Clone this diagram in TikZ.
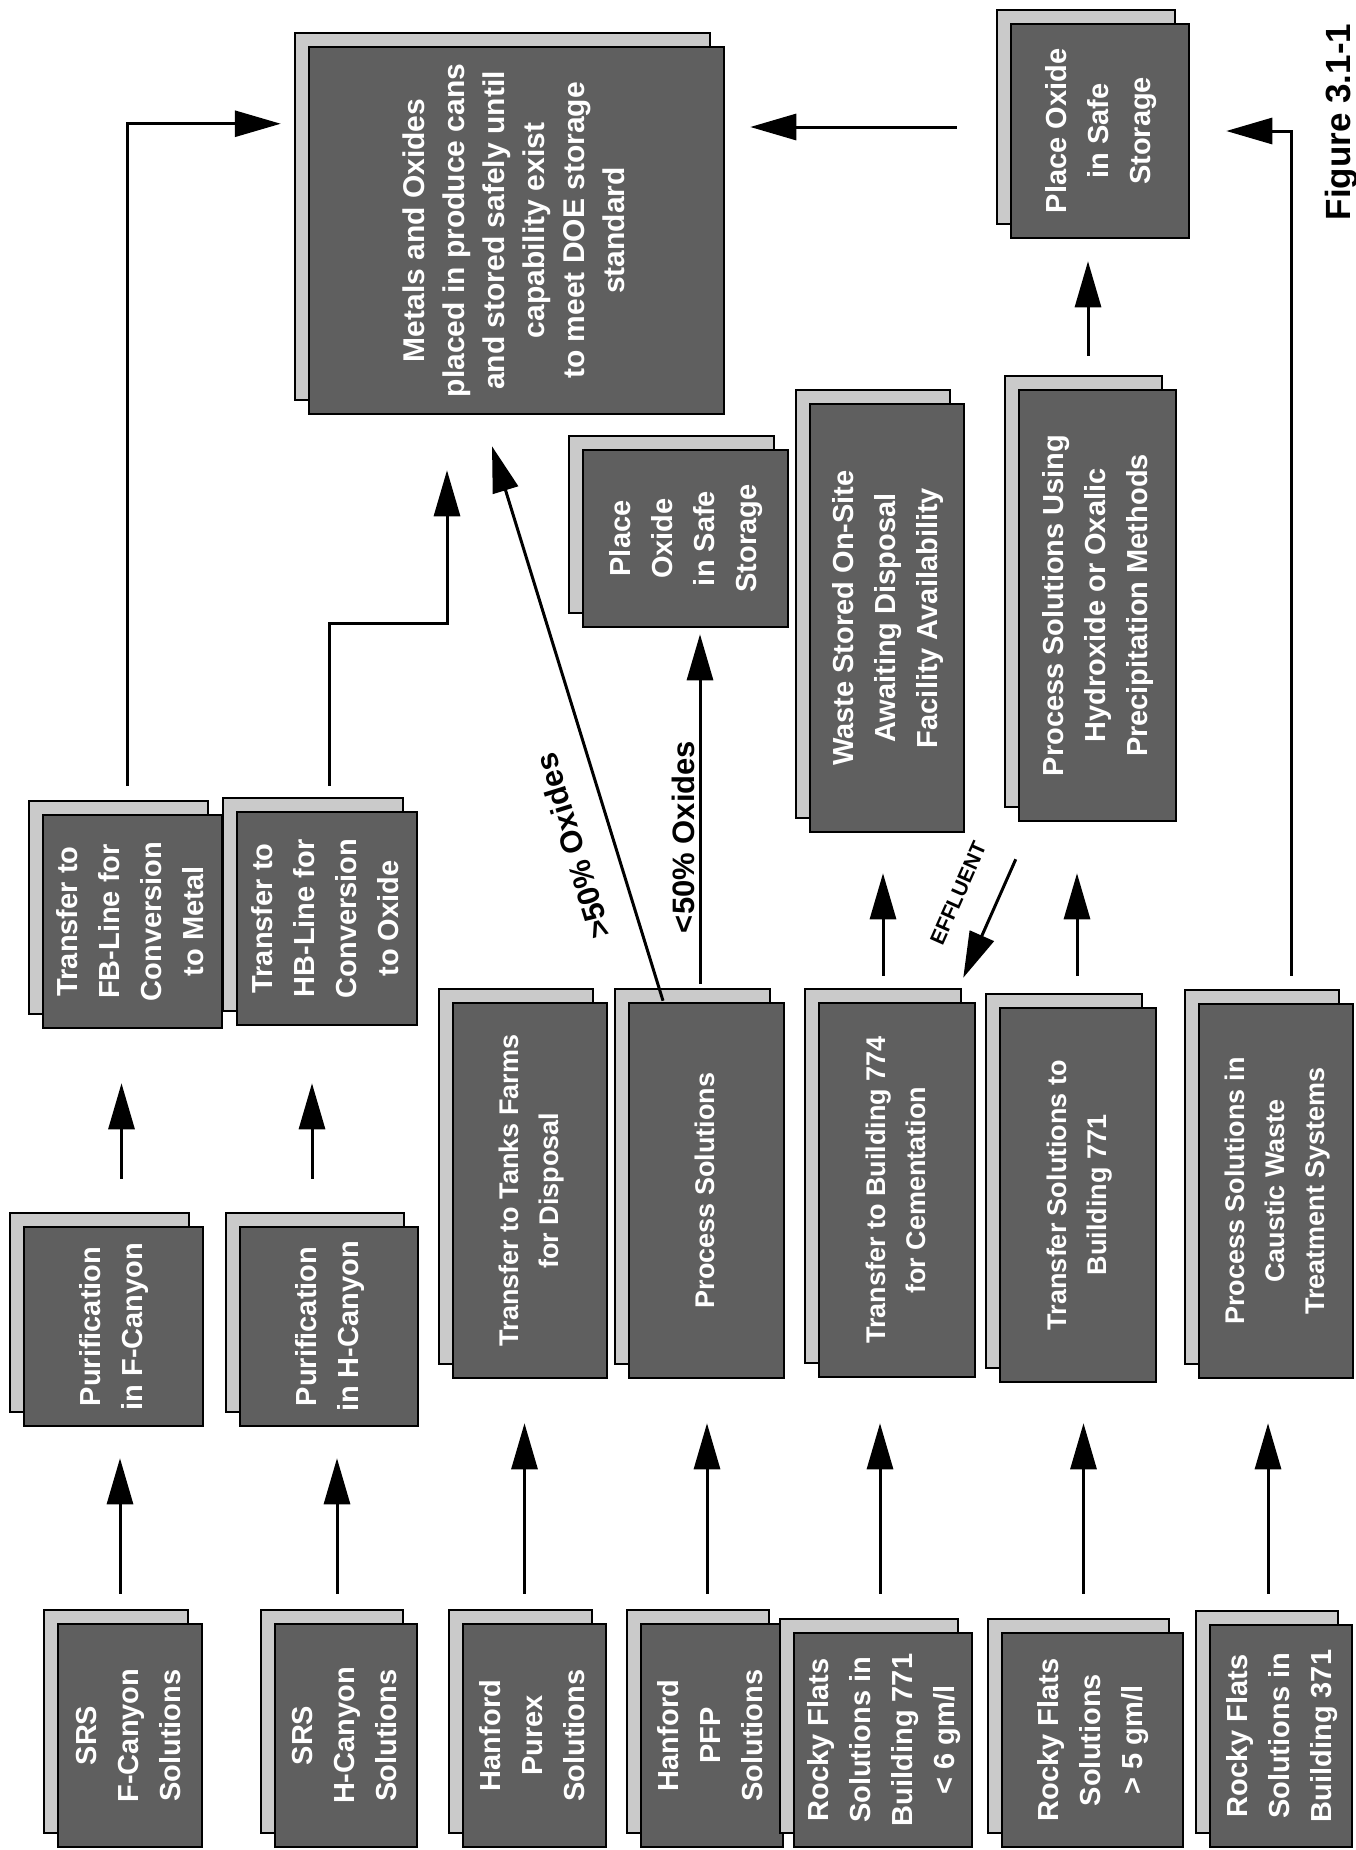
\documentclass[tikz,border=0pt]{standalone}
\usepackage{fontspec}
\setmainfont{Liberation Sans}
\usetikzlibrary{arrows.meta,calc}
\definecolor{frontgray}{HTML}{5F5F5F}
\definecolor{backgray}{HTML}{CACACA}
\newcommand\rtx[1]{\rotatebox{90}{\begin{tabular}{@{}c@{}}#1\end{tabular}}}
% [extra opts]{name}{x1}{y1}{x2}{y2}{text}  (front box corners, image pixels, y downwards)
\newcommand\bx[7][]{%
  \draw[backbox] ({#3-14},{#4-14}) rectangle ({#5-14},{#6-14});
  \node[frontbox,#1,minimum width={#5-#3},minimum height={#6-#4}] (#2) at ({(#3+#5)/2},{(#4+#6)/2}) {\rtx{#7}};%
}
\begin{document}
\begin{tikzpicture}[x=1pt,y=-1pt,
  backbox/.style={draw=black,line width=2.5pt,fill=backgray},
  frontbox/.style={draw=black,line width=2.5pt,fill=frontgray,inner sep=0pt,text=white,
    font=\bfseries\fontsize{29}{42}\selectfont},
  tallfont/.style={font=\bfseries\fontsize{27}{40}\selectfont},
  metfont/.style={font=\bfseries\fontsize{30}{40}\selectfont},
  arr/.style={line width=3pt,-{Triangle[length=46pt,width=26pt]}},
  lbl/.style={font=\bfseries\fontsize{31}{36}\selectfont,inner sep=0pt,allow upside down},
  efl/.style={font=\bfseries\fontsize{21}{24}\selectfont,inner sep=0pt},
]
\useasboundingbox (0,0) rectangle (1355,1850);
\fill[white] (0,0) rectangle (1355,1850);

% row 1 (sources)
\bx{srsf}{58}{1624}{202}{1847}{SRS\\F-Canyon\\Solutions}
\bx{srsh}{275}{1624}{417}{1847}{SRS\\H-Canyon\\Solutions}
\bx{purex}{463}{1624}{606}{1847}{Hanford\\Purex\\Solutions}
\bx{pfp}{641}{1624}{783}{1847}{Hanford\\PFP\\Solutions}
\bx{rfa}{794}{1633}{972}{1847}{Rocky Flats\\Solutions in\\Building 771\\< 6 gm/l}
\bx{rfb}{1002}{1633}{1183}{1847}{Rocky Flats\\Solutions\\> 5 gm/l}
\bx{rfc}{1210}{1625}{1352}{1847}{Rocky Flats\\Solutions in\\Building 371}

% row 2
\bx{purf}{24}{1227}{203}{1426}{Purification\\in F-Canyon}
\bx{purh}{240}{1227}{418}{1426}{Purification\\in H-Canyon}
\bx[tallfont]{tanks}{453}{1003}{607}{1378}{Transfer to Tanks Farms\\for Disposal}
\bx[tallfont]{procs}{629}{1003}{784}{1378}{Process Solutions}
\bx[tallfont]{bldga}{819}{1003}{975}{1377}{Transfer to Building 774\\for Cementation}
\bx[tallfont]{bldgb}{1000}{1008}{1156}{1382}{Transfer Solutions to\\Building 771}
\bx[tallfont]{caus}{1199}{1004}{1353}{1378}{Process Solutions in\\Caustic Waste\\Treatment Systems}

% row 3
\bx{fb}{43}{815}{222}{1028}{Transfer to\\FB-Line for\\Conversion\\to Metal}
\bx{hb}{237}{812}{417}{1025}{Transfer to\\HB-Line for\\Conversion\\to Oxide}
\bx{poa}{583}{450}{788}{627}{Place\\Oxide\\in Safe\\Storage}
\bx{waste}{810}{404}{964}{832}{Waste Stored On-Site\\Awaiting Disposal\\Facility Availability}
\bx{hydro}{1019}{390}{1176}{821}{Process Solutions Using\\Hydroxide or Oxalic\\Precipitation Methods}

% row 4
\bx[metfont]{metals}{309}{47}{724}{414}{Metals and Oxides\\placed in produce cans\\and stored safely until\\capability exist\\to meet DOE storage\\standard}
\bx{pob}{1011}{24}{1189}{238}{Place Oxide\\in Safe\\Storage}

\node[font=\bfseries\fontsize{35}{40}\selectfont,inner sep=0pt,rotate=90] (fig) at (1342,122) {Figure 3.1-1};

% row 1 -> row 2
\draw[arr] ($(srsf.north)+(-10,-29)$) -- ($(srsf.north |- purf.south)+(-10,31)$);
\draw[arr] ($(srsh.north)+(-9,-29)$) -- ($(srsh.north |- purh.south)+(-9,31)$);
\draw[arr] ($(purex.north)+(-10,-29)$) -- ($(purex.north |- tanks.south)+(-10,44)$);
\draw[arr] ($(pfp.north)+(-5,-29)$) -- ($(pfp.north |- procs.south)+(-5,44)$);
\draw[arr] ($(rfa.north)+(-3,-38)$) -- ($(rfa.north |- bldga.south)+(-3,45)$);
\draw[arr] ($(rfb.north)+(-9,-38)$) -- ($(rfb.north |- bldgb.south)+(-9,40)$);
\draw[arr] ($(rfc.north)+(-13,-30)$) -- ($(rfc.north |- caus.south)+(-13,44)$);

% row 2 -> row 3
\draw[arr] ($(purf.north)+(8,-47)$) -- ($(purf.north |- fb.south)+(8,54)$);
\draw[arr] ($(purh.north)+(-17,-47)$) -- ($(purh.north |- hb.south)+(-17,57)$);
\draw[arr] ($(bldga.north)+(-14,-26)$) -- ($(bldga.north |- waste.south)+(-14,40)$);
\draw[arr] ($(bldgb.north)+(-1,-31)$) -- ($(bldgb.north |- hydro.south)+(-1,51)$);
\draw[arr] ($(caus.north)+(15,-27)$) |- ($(pob.east)+(36,0)$);
\draw[arr] ($(procs.north)+(-6.5,-18)$) -- ($(procs.north |- poa.south)+(-6.5,6)$)
  node[lbl,pos=0.42,sloped,above=4pt] {<50\% Oxides};
\draw[arr] ($(procs.north)+(-43.5,-1)$) -- ($(metals.south)+(-24.5,31)$)
  node[lbl,pos=0.3,sloped,above=28pt] {>50\% Oxides};
\draw[arr] ($(hydro.south west)+(-2,37)$) -- ($(bldga.north east)+(-13,-24)$)
  node[efl,pos=0.42,sloped,above=30pt] {EFFLUENT};

% row 3 -> row 4
\draw[arr] ($(fb.north)+(-5.5,-28)$) |- ($(metals.north west)+(-27,78)$);
\draw[arr] ($(hb.north)+(2,-25)$) -- ++(0,-162) -| ($(metals.south)+(-69.5,55)$);
\draw[arr] ($(hydro.north)+(-9.5,-33)$) -- ($(hydro.north |- pob.south)+(-9.5,22)$);
\coordinate (pobout) at ($(pob.west)+(-53,-4)$);
\draw[arr] (pobout) -- ($(metals.east |- pobout)+(25,0)$);
\end{tikzpicture}
\end{document}
